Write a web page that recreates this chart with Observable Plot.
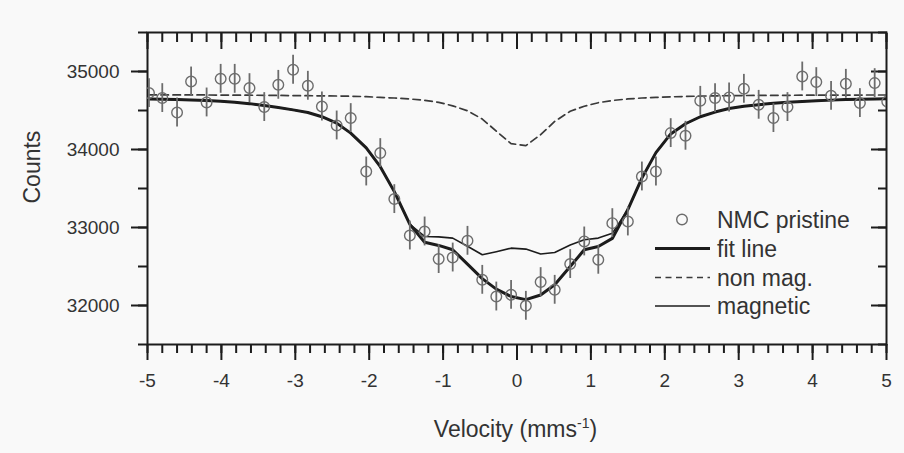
<!DOCTYPE html>
<html><head><meta charset="utf-8">
<script src="https://cdn.jsdelivr.net/npm/d3@7"></script>
<script src="https://cdn.jsdelivr.net/npm/@observablehq/plot@0.6"></script>
<style>
html,body{margin:0;padding:0;background:#f9f9f9;}
#chart{position:relative;width:904px;height:453px;}
</style></head><body><div id="chart"></div>
<script>
// Mössbauer spectrum, NMC pristine
const velocity = [-4.98,-4.80,-4.60,-4.41,-4.20,-4.01,-3.82,-3.62,-3.42,-3.23,-3.03,-2.83,-2.64,-2.44,-2.25,-2.04,-1.85,-1.66,-1.45,-1.25,-1.06,-0.87,-0.67,-0.47,-0.28,-0.08,0.12,0.32,0.51,0.72,0.91,1.10,1.29,1.50,1.69,1.88,2.08,2.28,2.48,2.68,2.87,3.07,3.27,3.47,3.66,3.86,4.05,4.25,4.45,4.64,4.84,5.01];
const counts = [34723,34659,34474,34872,34603,34906,34906,34787,34544,34829,35022,34817,34551,34308,34403,33718,33954,33364,32897,32949,32595,32615,32829,32329,32115,32137,31996,32300,32201,32531,32821,32586,33056,33077,33654,33718,34210,34176,34624,34659,34667,34778,34573,34403,34544,34936,34864,34688,34842,34595,34851,34615];
const fitLine = [34646,34644,34640,34635,34628,34618,34606,34588,34563,34538,34508,34474,34420,34338,34210,34020,33780,33460,33040,32810,32770,32715,32530,32345,32210,32115,32075,32135,32265,32500,32714,32757,32860,33230,33633,33960,34200,34330,34420,34480,34525,34555,34575,34592,34605,34615,34625,34633,34640,34645,34648,34650];
const nonMag = [34700,34700,34700,34700,34699,34698,34697,34696,34695,34693,34691,34690,34688,34686,34683,34677,34668,34660,34648,34630,34605,34560,34497,34390,34235,34075,34050,34190,34360,34490,34555,34600,34628,34648,34660,34668,34675,34680,34685,34688,34690,34692,34693,34694,34695,34696,34697,34697,34698,34698,34699,34699];
const magnetic = [34646,34644,34640,34635,34628,34618,34606,34588,34563,34538,34508,34474,34420,34338,34210,34020,33780,33460,33040,32885,32880,32864,32760,32650,32690,32735,32723,32660,32680,32775,32842,32864,32925,33230,33633,33960,34200,34330,34420,34480,34525,34555,34575,34592,34605,34615,34625,34633,34640,34645,34648,34650];
const errorBar = 185;
const xTicks = [-5,-4,-3,-2,-1,0,1,2,3,4,5];
const yTicks = [32000,33000,34000,35000];
const xMinor = d3.range(-50, 51, 2).map(d => d / 10);
const yMinor = d3.range(31500, 35501, 500);
const legendItems = ["NMC pristine", "fit line", "non mag.", "magnetic"];

const data = velocity.map((v, i) => ({v, c: counts[i], fit: fitLine[i], nm: nonMag[i], mag: magnetic[i]}));
const ink = "#1c1c1c";
const grey = "#6c6c6c";
const txt = "#333333";
const font = "'Liberation Sans', Arial, sans-serif";

const plot = Plot.plot({
  width: 904, height: 453,
  marginLeft: 147, marginRight: 18, marginTop: 32, marginBottom: 109,
  style: {background: "#f9f9f9", fontFamily: font, color: txt},
  x: {domain: [-5, 5]},
  y: {domain: [31500, 35500]},
  marks: [
    // bottom axis
    Plot.axisX({ticks: xMinor, tickSize: 9, fill: "none", stroke: ink, strokeWidth: 2}),
    Plot.axisX({ticks: xTicks, tickSize: 16, tickPadding: 13, tickFormat: d => String(d), label: null, stroke: ink, strokeWidth: 2, fill: txt, fontSize: 19}),
    // top mirror axis (inward)
    Plot.axisX({anchor: "top", ticks: xMinor, tickSize: -9, fill: "none", stroke: ink, strokeWidth: 2}),
    Plot.axisX({anchor: "top", ticks: xTicks, tickSize: -16, fill: "none", stroke: ink, strokeWidth: 2}),
    // left axis
    Plot.axisY({ticks: yMinor, tickSize: 9, fill: "none", stroke: ink, strokeWidth: 2}),
    Plot.axisY({ticks: yTicks, tickSize: 16, tickPadding: 12, tickFormat: d => String(d), label: null, stroke: ink, strokeWidth: 2, fill: txt, fontSize: 19}),
    // right mirror axis (inward)
    Plot.axisY({anchor: "right", ticks: yMinor, tickSize: -9, fill: "none", stroke: ink, strokeWidth: 2}),
    Plot.axisY({anchor: "right", ticks: yTicks, tickSize: -16, fill: "none", stroke: ink, strokeWidth: 2}),
    Plot.frame({stroke: ink, strokeWidth: 2}),
    Plot.text(["Counts"], {text: d => d, frameAnchor: "left", dx: -115, dy: 15, rotate: -90, fontSize: 23, fill: txt}),
    // curves
    Plot.line(data, {x: "v", y: "nm", stroke: "#3a3a3a", strokeWidth: 1.7, strokeDasharray: "7.5,4.5", clip: true}),
    Plot.line(data, {x: "v", y: "mag", stroke: ink, strokeWidth: 1.6, clip: true}),
    Plot.line(data, {x: "v", y: "fit", stroke: ink, strokeWidth: 3, clip: true}),
    // data with error bars
    Plot.ruleX(data, {x: "v", y1: d => d.c - errorBar, y2: d => d.c + errorBar, stroke: grey, strokeWidth: 1.8, clip: true}),
    Plot.dot(data, {x: "v", y: "c", r: 5.3, stroke: grey, strokeWidth: 1.4, fill: "none", clip: true})
  ]
});

const svg = d3.select(plot);
// x axis title with superscript
const xt = svg.append("text")
  .attr("x", 515.5).attr("y", 437)
  .attr("text-anchor", "middle")
  .attr("font-family", font).attr("font-size", 23).attr("fill", txt);
xt.append("tspan").text("Velocity (mms");
xt.append("tspan").attr("dy", -9).attr("font-size", 14).text("-1");
xt.append("tspan").attr("dy", 9).text(")");

// legend
const lg = svg.append("g").attr("font-family", font).attr("font-size", 23).attr("fill", txt).attr("text-anchor", "start");
const rowsY = [219.5, 248.5, 277.5, 306];
lg.append("circle").attr("cx", 682).attr("cy", rowsY[0]).attr("r", 5.3)
  .attr("fill", "none").attr("stroke", grey).attr("stroke-width", 1.4);
lg.append("line").attr("x1", 655).attr("x2", 710).attr("y1", rowsY[1]).attr("y2", rowsY[1])
  .attr("stroke", ink).attr("stroke-width", 3);
lg.append("line").attr("x1", 655).attr("x2", 710).attr("y1", rowsY[2]).attr("y2", rowsY[2])
  .attr("stroke", "#3a3a3a").attr("stroke-width", 1.7).attr("stroke-dasharray", "6,4.5");
lg.append("line").attr("x1", 655).attr("x2", 710).attr("y1", rowsY[3]).attr("y2", rowsY[3])
  .attr("stroke", ink).attr("stroke-width", 1.6);
legendItems.forEach((t, i) => {
  lg.append("text").attr("x", 717).attr("y", rowsY[i] + 8).attr("text-anchor", "start").text(t);
});

document.getElementById("chart").appendChild(plot);
</script></body></html>
